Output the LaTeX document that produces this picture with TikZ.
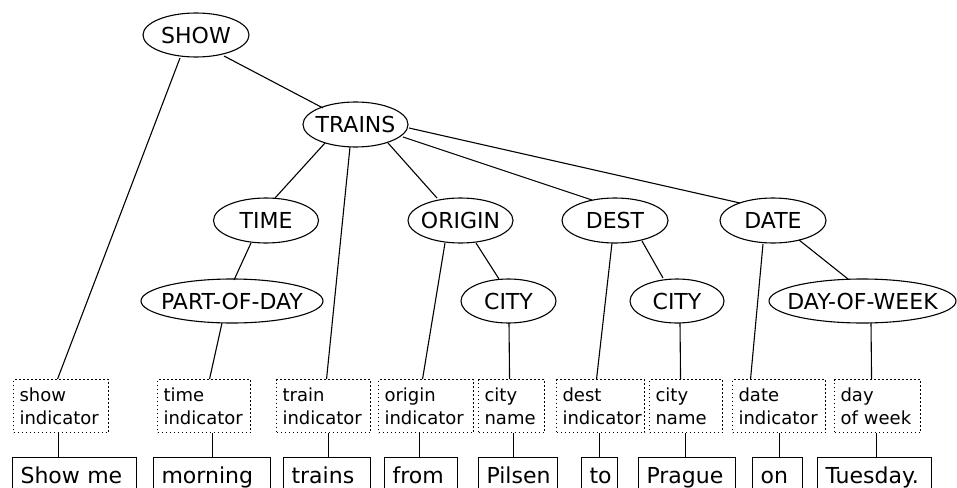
\documentclass[tikz,border=0pt]{standalone}
\usepackage{fontspec}
\setmainfont{DejaVu Sans}
\usetikzlibrary{shapes.geometric}
\newcommand\elltext[1]{\makebox[0pt]{#1}}
\begin{document}
\begin{tikzpicture}[x=1pt,y=-1pt,line width=1.1pt,
  ell/.style={ellipse,draw,inner sep=0pt,font=\fontsize{22}{26}\selectfont},
  ind/.style={draw,dash pattern=on 1.2pt off 2.8pt,inner xsep=6pt,inner ysep=0pt,
    minimum height=53pt,align=left,font=\fontsize{18}{22.5}\selectfont,anchor=north west},
  word/.style={draw,inner xsep=8pt,inner ysep=0pt,text height=16pt,text depth=5pt,
    minimum height=40pt,align=left,font=\fontsize{22}{26}\selectfont,anchor=north west},
  conn/.style={draw,line width=1.1pt}]
\useasboundingbox (0,0) rectangle (957,487);
\clip (0,0) rectangle (957,487);
% ellipses
\node[ell,minimum width=106pt,minimum height=44pt] (show) at (196,35) {\elltext{SHOW}};
\node[ell,minimum width=105pt,minimum height=45pt] (trains) at (355.5,124.5) {\elltext{TRAINS}};
\node[ell,minimum width=105pt,minimum height=45pt] (time) at (266,220.5) {\elltext{TIME}};
\node[ell,minimum width=105pt,minimum height=45pt] (origin) at (460.5,220.5) {\elltext{ORIGIN}};
\node[ell,minimum width=106pt,minimum height=45pt] (dest) at (615,220.5) {\elltext{DEST}};
\node[ell,minimum width=106pt,minimum height=45pt] (date) at (773,220.5) {\elltext{DATE}};
\node[ell,minimum width=182pt,minimum height=44pt] (part) at (232,301) {\elltext{PART-OF-DAY}};
\node[ell,minimum width=95pt,minimum height=44pt] (cityA) at (508.5,301) {\elltext{CITY}};
\node[ell,minimum width=94pt,minimum height=44pt] (cityB) at (677,301) {\elltext{CITY}};
\node[ell,minimum width=187pt,minimum height=44pt] (dow) at (862.5,301) {\elltext{DAY-OF-WEEK}};
% dotted boxes
\node[ind,text width=83pt] (ind1) at (13,379) {show\\indicator};
\node[ind,text width=81pt] (ind2) at (157,379) {time\\indicator};
\node[ind,text width=82pt] (ind3) at (276,379) {train\\indicator};
\node[ind,text width=83pt] (ind4) at (378,379) {origin\\indicator};
\node[ind,text width=54pt] (ind5) at (478,379) {city\\name};
\node[ind,text width=76pt] (ind6) at (556,379) {dest\\indicator};
\node[ind,text width=61pt] (ind7) at (649,379) {city\\name};
\node[ind,text width=81pt] (ind8) at (732,379) {date\\indicator};
\node[ind,text width=74pt] (ind9) at (834,379) {day\\of week};
% words
\node[word,text width=108pt] (w1) at (12,457) {Show me};
\node[word,text width=101pt] (w2) at (153,457) {morning};
\node[word,text width=71pt] (w3) at (283,457) {trains};
\node[word,text width=57pt] (w4) at (384,457) {from};
\node[word,text width=63pt] (w5) at (478,457) {Pilsen};
\node[word,text width=20pt] (w6) at (581,457) {to};
\node[word,text width=81pt] (w7) at (638,457) {Prague};
\node[word,text width=34pt] (w8) at (752,457) {on};
\node[word,text width=98pt] (w9) at (817,457) {Tuesday.};
% tree edges
\draw[conn] ([shift={(-16,23)}]show.center) -- ([xshift=-3.5pt]ind1.north);
\draw[conn] ([shift={(28,21)}]show.center) -- ([shift={(-32.5,-16.5)}]trains.center);
\draw[conn] ([shift={(-30.5,18.5)}]trains.center) -- ([shift={(9,-22.5)}]time.center);
\draw[conn] ([shift={(-5.5,22.5)}]trains.center) -- ([xshift=3pt]ind3.north);
\draw[conn] ([shift={(32.5,18.5)}]trains.center) -- ([shift={(-23.5,-22.5)}]origin.center);
\draw[conn] ([shift={(47.5,12.5)}]trains.center) -- ([shift={(-23,-20.5)}]dest.center);
\draw[conn] ([shift={(53.5,3.5)}]trains.center) -- ([shift={(-33,-17.5)}]date.center);
\draw[conn] ([shift={(-15,22.5)}]time.center) -- ([shift={(2,-21)}]part.center);
\draw[conn] ([shift={(-10,22)}]part.center) -- ([xshift=5.5pt]ind2.north);
\draw[conn] ([shift={(-15.5,22.5)}]origin.center) -- ([xshift=-3.5pt]ind4.north);
\draw[conn] ([shift={(15.5,22.5)}]origin.center) -- ([shift={(-9.5,-22)}]cityA.center);
\draw[conn] ([shift={(0.5,22)}]cityA.center) -- ([xshift=-2pt]ind5.north);
\draw[conn] ([shift={(-3,22.5)}]dest.center) -- ([xshift=-4pt]ind6.north);
\draw[conn] ([shift={(27,20.5)}]dest.center) -- ([shift={(-14,-23)}]cityB.center);
\draw[conn] ([shift={(3,22)}]cityB.center) -- ([xshift=-5.5pt]ind7.north);
\draw[conn] ([shift={(-10,23.5)}]date.center) -- ([xshift=-28.5pt]ind8.north);
\draw[conn] ([shift={(26,19.5)}]date.center) -- ([shift={(-14.5,-22)}]dow.center);
\draw[conn] ([shift={(8.5,22)}]dow.center) -- ([xshift=-6pt]ind9.north);
% box to word
\draw[conn] ([xshift=-2.5pt]ind1.south) -- ([xshift=-16pt]w1.north);
\draw[conn] ([xshift=8.5pt]ind2.south) -- ([xshift=0.5pt]w2.north);
\draw[conn] ([xshift=5pt]ind3.south) -- ([xshift=1.5pt]w3.north);
\draw[conn] ([xshift=-6.5pt]ind4.south) -- ([xshift=-1.5pt]w4.north);
\draw[conn] ([xshift=2pt]ind5.south) -- ([xshift=-4.5pt]w5.north);
\draw[conn] ([xshift=-1pt]ind6.south) -- ([xshift=0pt]w6.north);
\draw[conn] ([xshift=-0.5pt]ind7.south) -- ([xshift=-1.5pt]w7.north);
\draw[conn] ([xshift=0.5pt]ind8.south) -- ([xshift=2pt]w8.north);
\draw[conn] ([xshift=-1pt]ind9.south) -- ([xshift=2pt]w9.north);
\end{tikzpicture}
\end{document}
